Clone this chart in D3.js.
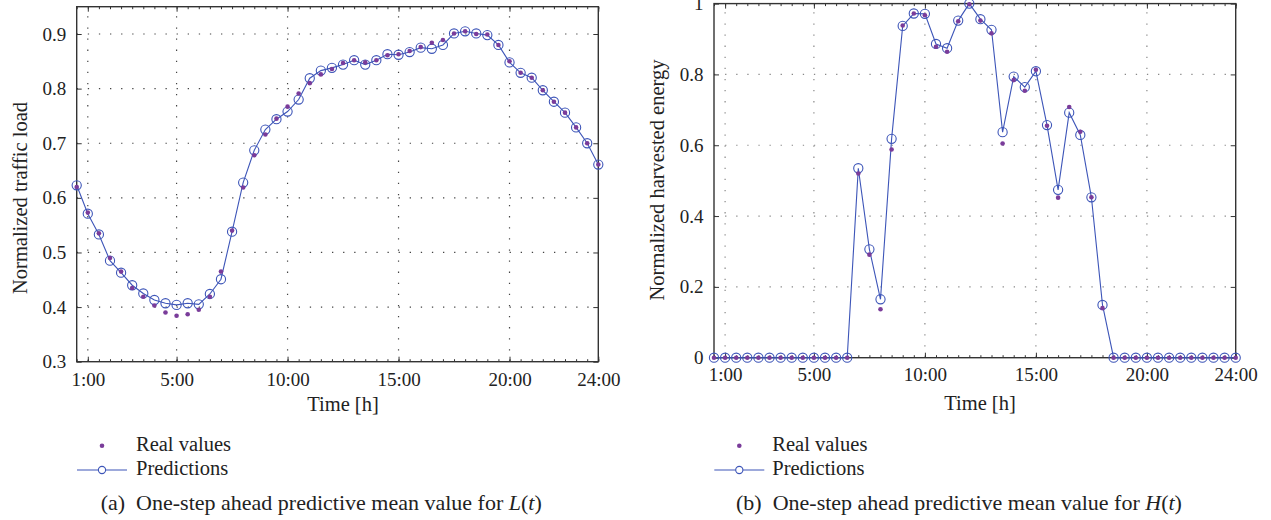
<!DOCTYPE html>
<html>
<head>
<meta charset="utf-8">
<script src="https://cdn.jsdelivr.net/npm/d3@7"></script>
<style>
  html, body { margin: 0; padding: 0; background: #fff; }
  svg { display: block; }
  text { font-family: "Liberation Serif", "DejaVu Serif", serif; fill: #222; }
</style>
</head>
<body>
<svg id="chart" width="1271" height="520"></svg>
<script>
// ---- data ----
const hours = [0.5,1,1.5,2,2.5,3,3.5,4,4.5,5,5.5,6,6.5,7,7.5,8,8.5,9,9.5,10,10.5,11,11.5,12,
               12.5,13,13.5,14,14.5,15,15.5,16,16.5,17,17.5,18,18.5,19,19.5,20,20.5,21,21.5,22,22.5,23,23.5,24];

const loadPred = [0.623,0.571,0.533,0.485,0.463,0.440,0.425,0.413,0.407,0.404,0.407,0.405,0.424,0.451,0.538,0.628,
                  0.687,0.725,0.744,0.758,0.780,0.819,0.833,0.838,0.844,0.852,0.844,0.852,0.863,0.862,0.867,0.875,
                  0.873,0.880,0.901,0.905,0.901,0.898,0.880,0.848,0.829,0.820,0.797,0.776,0.756,0.729,0.700,0.661];
const loadReal = [0.620,0.573,0.535,0.490,0.465,0.435,0.419,0.403,0.390,0.384,0.387,0.395,0.419,0.465,0.540,0.619,
                  0.678,0.716,0.745,0.767,0.791,0.810,0.826,0.836,0.847,0.852,0.848,0.852,0.861,0.863,0.869,0.876,
                  0.884,0.889,0.901,0.905,0.900,0.899,0.880,0.850,0.829,0.820,0.797,0.776,0.756,0.729,0.700,0.661];

const energyPred = [0,0,0,0,0,0,0,0,0,0,0,0,0,
                    0.535,0.306,0.165,0.618,0.937,0.972,0.971,0.886,0.874,0.952,1.000,0.956,0.926,0.637,0.794,
                    0.764,0.809,0.657,0.474,0.692,0.629,0.453,0.149,
                    0,0,0,0,0,0,0,0,0,0,0,0];
const energyReal = [0,0,0,0,0,0,0,0,0,0,0,0,0,
                    0.520,0.291,0.137,0.588,0.938,0.972,0.967,0.878,0.864,0.950,0.998,0.952,0.916,0.605,0.784,
                    0.754,0.813,0.655,0.452,0.708,0.638,0.453,0.140,
                    0,0,0,0,0,0,0,0,0,0,0,0];

const xTicks = [1,5,10,15,20,24];
const xTickLabels = ["1:00","5:00","10:00","15:00","20:00","24:00"];
const xGrid = [1,5,10,15,20];

const loadYTicks = [0.3,0.4,0.5,0.6,0.7,0.8,0.9];
const loadYLabels = ["0.3","0.4","0.5","0.6","0.7","0.8","0.9"];
const energyYTicks = [0,0.2,0.4,0.6,0.8,1];
const energyYLabels = ["0","0.2","0.4","0.6","0.8","1"];

// ---- styles ----
const lineColor = "#3d55b8";
const dotColor = "#7a3c9a";
const axisColor = "#333";

const svg = d3.select("#chart");

function panel(cfg) {
  const g = svg.append("g");
  const x = d3.scaleLinear().domain([0.5, 24]).range([cfg.left, cfg.right]);
  const y = d3.scaleLinear().domain(cfg.yDomain).range([cfg.bottom, cfg.top]);

  // grid
  g.append("g").selectAll("line").data(xGrid).join("line")
    .attr("x1", d => x(d)).attr("x2", d => x(d))
    .attr("y1", cfg.bottom).attr("y2", cfg.top)
    .attr("stroke", cfg.gridColor).attr("stroke-width", 1.2)
    .attr("stroke-dasharray", "1.3,9.8");
  g.append("g").selectAll("line").data(cfg.yGrid).join("line")
    .attr("y1", d => y(d)).attr("y2", d => y(d))
    .attr("x1", cfg.left).attr("x2", cfg.right)
    .attr("stroke", cfg.gridColor).attr("stroke-width", 1.2)
    .attr("stroke-dasharray", "1.3,9.8");

  const styleAxis = sel => {
    sel.select(".domain").remove();
    sel.selectAll(".tick line").attr("stroke", axisColor).attr("stroke-width", 1);
    sel.selectAll("text").style("font-family", '"Liberation Serif", serif').style("font-size", "19px").attr("fill", "#222");
  };

  // minor x ticks
  g.append("g").attr("transform", `translate(0,${cfg.bottom})`)
    .call(d3.axisBottom(x).tickValues(hours).tickSizeInner(-2.5).tickSizeOuter(0).tickFormat(""))
    .call(styleAxis);
  g.append("g").attr("transform", `translate(0,${cfg.top})`)
    .call(d3.axisTop(x).tickValues(hours).tickSizeInner(-2.5).tickSizeOuter(0).tickFormat(""))
    .call(styleAxis);

  // major x
  g.append("g").attr("transform", `translate(0,${cfg.bottom})`)
    .call(d3.axisBottom(x).tickValues(xTicks).tickSizeInner(-5).tickSizeOuter(0).tickPadding(cfg.xPad)
      .tickFormat((d, i) => xTickLabels[i]))
    .call(styleAxis);
  g.append("g").attr("transform", `translate(0,${cfg.top})`)
    .call(d3.axisTop(x).tickValues(xTicks).tickSizeInner(-5).tickSizeOuter(0).tickFormat(""))
    .call(styleAxis);

  // y axes
  g.append("g").attr("transform", `translate(${cfg.left},0)`)
    .call(d3.axisLeft(y).tickValues(cfg.yTicks).tickSizeInner(-5).tickSizeOuter(0).tickPadding(10.5)
      .tickFormat((d, i) => cfg.yLabels[i]))
    .call(styleAxis);
  g.append("g").attr("transform", `translate(${cfg.right},0)`)
    .call(d3.axisRight(y).tickValues(cfg.yTicks).tickSizeInner(-5).tickSizeOuter(0).tickFormat(""))
    .call(styleAxis);

  // frame
  g.append("rect")
    .attr("x", cfg.left).attr("y", cfg.top)
    .attr("width", cfg.right - cfg.left).attr("height", cfg.bottom - cfg.top)
    .attr("fill", "none").attr("stroke", axisColor).attr("stroke-width", 1.4);

  // prediction line
  const line = d3.line().x((d, i) => x(hours[i])).y(d => y(d));
  g.append("path").datum(cfg.pred).attr("d", line)
    .attr("fill", "none").attr("stroke", lineColor).attr("stroke-width", 1.1);

  g.append("g").selectAll("circle").data(cfg.pred).join("circle")
    .attr("cx", (d, i) => x(hours[i])).attr("cy", d => y(d)).attr("r", 4.6)
    .attr("fill", "none").attr("stroke", lineColor).attr("stroke-width", 1.1);

  g.append("g").selectAll("circle").data(cfg.real).join("circle")
    .attr("cx", (d, i) => x(hours[i])).attr("cy", d => y(d)).attr("r", 2.3)
    .attr("fill", dotColor);

  // axis titles
  g.append("text").attr("x", cfg.xTitleX).attr("y", cfg.xTitleY)
    .attr("text-anchor", "middle").style("font-size", "20.5px").text("Time [h]");
  g.append("text")
    .attr("transform", `translate(${cfg.yTitleX},${cfg.yTitleY}) rotate(-90)`)
    .attr("text-anchor", "middle").style("font-size", "20.5px").text(cfg.yTitle);

  // legend
  const lg = svg.append("g");
  lg.append("circle").attr("cx", cfg.legX).attr("cy", 445.7).attr("r", 2.3).attr("fill", dotColor);
  lg.append("text").attr("x", cfg.legTextX).attr("y", 450.5).style("font-size", "20.5px").text("Real values");
  lg.append("line").attr("x1", cfg.legX - 25).attr("x2", cfg.legX + 25).attr("y1", 470).attr("y2", 470)
    .attr("stroke", lineColor).attr("stroke-width", 1.1);
  lg.append("circle").attr("cx", cfg.legX).attr("cy", 470).attr("r", 3.6)
    .attr("fill", "#fff").attr("stroke", lineColor).attr("stroke-width", 1.1);
  lg.append("text").attr("x", cfg.legTextX).attr("y", 475).style("font-size", "20.5px").text("Predictions");

  // caption
  const cap = lg.append("text").attr("x", cfg.capX).attr("y", 510).style("font-size", "22px");
  cap.append("tspan").text(cfg.capLetter + "\u2002One-step ahead predictive mean value for ");
  cap.append("tspan").style("font-style", "italic").text(cfg.capVar);
  cap.append("tspan").text("(");
  cap.append("tspan").style("font-style", "italic").text("t");
  cap.append("tspan").text(")");
}

panel({
  left: 76.7, right: 598.3, top: 6.7, bottom: 361.7,
  yDomain: [0.3, 0.95], yTicks: loadYTicks, yLabels: loadYLabels,
  yGrid: [0.4,0.5,0.6,0.7,0.8,0.9], gridColor: "#444",
  pred: loadPred, real: loadReal, xPad: 10.5,
  xTitleX: 343, xTitleY: 411, yTitleX: 26.5, yTitleY: 198,
  yTitle: "Normalized traffic load",
  legX: 102, legTextX: 136, capX: 100.7, capLetter: "(a)", capVar: "L"
});

panel({
  left: 714, right: 1235.7, top: 3.6, bottom: 357.7,
  yDomain: [0, 1], yTicks: energyYTicks, yLabels: energyYLabels,
  yGrid: [0.2,0.4,0.6,0.8], gridColor: "#888",
  pred: energyPred, real: energyReal, xPad: 9.8,
  xTitleX: 980, xTitleY: 409.5, yTitleX: 664, yTitleY: 180,
  yTitle: "Normalized harvested energy",
  legX: 739.3, legTextX: 772.3, capX: 736, capLetter: "(b)", capVar: "H"
});
</script>
</body>
</html>
